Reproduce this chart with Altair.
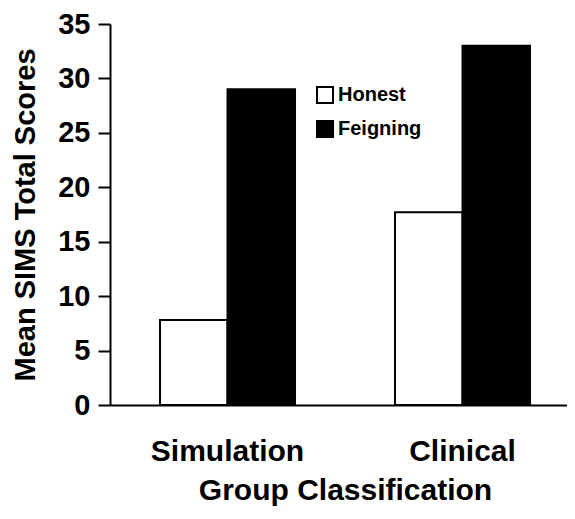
import altair as alt
import pandas as pd

groups = ["Simulation", "Simulation", "Clinical", "Clinical"]
conditions = ["Honest", "Feigning", "Honest", "Feigning"]
scores = [7.8, 29.0, 17.7, 33.0]
y_ticks = [0, 5, 10, 15, 20, 25, 30, 35]

df = pd.DataFrame({"group": groups, "condition": conditions, "score": scores})

FONT = "Liberation Sans"

chart = alt.Chart(df).mark_bar(stroke="black", strokeWidth=2).encode(
    x=alt.X(
        "group:N",
        sort=["Simulation", "Clinical"],
        scale=alt.Scale(paddingInner=0.4255, paddingOuter=0.1851, align=0.575),
        axis=alt.Axis(
            title="Group Classification",
            labelAngle=0,
            ticks=False,
            domainColor="black",
            domainWidth=2,
            labelFont=FONT,
            labelFontSize=30,
            labelFontWeight="bold",
            labelColor="black",
            labelPadding=31,
            titleFont=FONT,
            titleFontSize=30,
            titleFontWeight="bold",
            titleColor="black",
            titlePadding=9,
            titleX=235,
        ),
    ),
    xOffset=alt.XOffset("condition:N", sort=["Honest", "Feigning"]),
    y=alt.Y(
        "score:Q",
        scale=alt.Scale(domain=[0, 35], nice=False),
        axis=alt.Axis(
            title="Mean SIMS Total Scores",
            values=y_ticks,
            grid=False,
            domainColor="black",
            domainWidth=2,
            tickColor="black",
            tickWidth=2,
            tickSize=12,
            labelFont=FONT,
            labelFontSize=29,
            labelFontWeight="bold",
            labelColor="black",
            labelPadding=8,
            titleFont=FONT,
            titleFontSize=29,
            titleFontWeight="bold",
            titleColor="black",
            titlePadding=17,
        ),
    ),
    fill=alt.Fill(
        "condition:N",
        sort=["Honest", "Feigning"],
        scale=alt.Scale(domain=["Honest", "Feigning"], range=["white", "black"]),
        legend=alt.Legend(
            title=None,
            orient="none",
            legendX=205,
            legendY=61,
            symbolType="square",
            symbolSize=256,
            symbolStrokeColor="black",
            symbolStrokeWidth=2,
            labelFont=FONT,
            labelFontSize=20,
            labelFontWeight="bold",
            labelColor="black",
            labelOffset=3,
            rowPadding=10,
            padding=0,
        ),
    ),
).properties(
    width=457,
    height=381,
    autosize=alt.AutoSizeParams(type="none"),
    padding={"left": 102, "top": 16, "right": 0, "bottom": 106},
).configure_view(stroke=None)

chart.save("out.html", embed_options={"renderer": "svg", "actions": False})
